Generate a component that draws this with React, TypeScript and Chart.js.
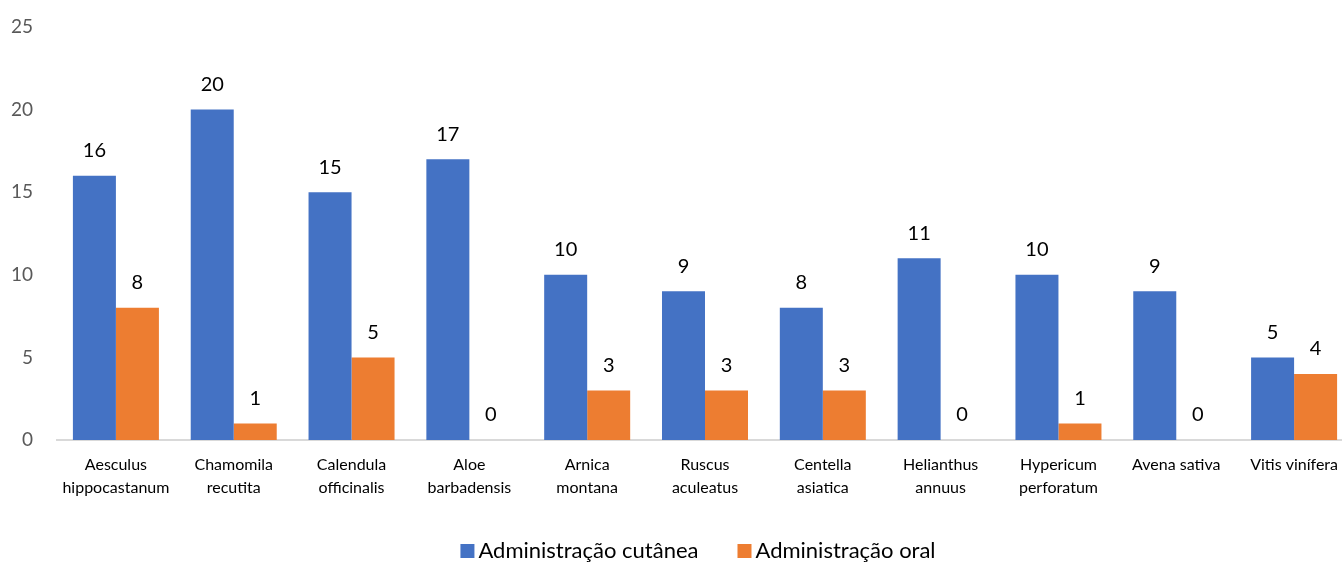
import React, { useEffect, useRef } from "react";
import { Chart, registerables } from "chart.js";

Chart.register(...registerables);

const categories: string[][] = [
  ["Aesculus", "hippocastanum"],
  ["Chamomila", "recutita"],
  ["Calendula", "officinalis"],
  ["Aloe", "barbadensis"],
  ["Arnica", "montana"],
  ["Ruscus", "aculeatus"],
  ["Centella", "asiatica"],
  ["Helianthus", "annuus"],
  ["Hypericum", "perforatum"],
  ["Avena sativa"],
  ["Vitis vinífera"],
];
const cutanea = [16, 20, 15, 17, 10, 9, 8, 11, 10, 9, 5];
const oral = [8, 1, 5, 0, 3, 3, 3, 0, 1, 0, 4];
const seriesNames = ["Administração cutânea", "Administração oral"];
const seriesColors = ["#4472C4", "#ED7D31"];

const FONT = "Lato, 'Open Sans', sans-serif";

const dataLabels = {
  id: "dataLabels",
  afterDatasetsDraw(chart: any) {
    const ctx = chart.ctx;
    ctx.save();
    ctx.font = `20px ${FONT}`;
    ctx.fillStyle = "#000";
    ctx.textAlign = "center";
    ctx.textBaseline = "middle";
    chart.data.datasets.forEach((ds: any, i: number) => {
      const meta = chart.getDatasetMeta(i);
      meta.data.forEach((el: any, j: number) => {
        ctx.fillText(String(ds.data[j]), el.x, el.y - 25);
      });
    });
    ctx.restore();
  },
};

// Office-style legend: small square, short gap, wide spacing between items
const customLegend = {
  id: "customLegend",
  afterDraw(chart: any) {
    const ctx = chart.ctx;
    ctx.save();
    ctx.font = `22px ${FONT}`;
    ctx.textBaseline = "middle";
    ctx.textAlign = "left";
    const box = 14, gap = 4, itemGap = 39;
    const items = chart.data.datasets.map((ds: any) => ({
      label: ds.label,
      color: ds.backgroundColor,
      w: box + gap + ctx.measureText(ds.label).width,
    }));
    const total = items.reduce((a: number, it: any) => a + it.w, 0) + itemGap * (items.length - 1);
    const cx = 698;
    const cy = chart.height - 12;
    let x = cx - total / 2;
    items.forEach((it: any) => {
      ctx.fillStyle = it.color;
      ctx.fillRect(x, cy - box / 2, box, box);
      ctx.fillStyle = "#000";
      ctx.fillText(it.label, x + box + gap, cy);
      x += it.w + itemGap;
    });
    ctx.restore();
  },
};

export default function App() {
  const ref = useRef<HTMLCanvasElement>(null);
  useEffect(() => {
    if (!ref.current) return;
    const chart = new Chart(ref.current, {
      type: "bar",
      data: {
        labels: categories,
        datasets: [
          { label: seriesNames[0], data: cutanea, backgroundColor: seriesColors[0] },
          { label: seriesNames[1], data: oral, backgroundColor: seriesColors[1] },
        ],
      },
      options: {
        responsive: false,
        animation: false,
        layout: { padding: { top: 27, right: 45, left: 0, bottom: 43 } },
        datasets: { bar: { categoryPercentage: 0.73, barPercentage: 1 } },
        scales: {
          x: {
            grid: { display: false, drawTicks: false },
            border: { display: true, color: "#d9d9d9", width: 2 },
            afterFit: (s: any) => { s.height = 80; },
            ticks: {
              color: "#000",
              font: { family: FONT, size: 16, lineHeight: 1.45 },
              padding: 13,
              maxRotation: 0,
              autoSkip: false,
            },
          },
          y: {
            min: 0,
            max: 25,
            grid: { display: false, drawTicks: false },
            border: { display: false },
            afterFit: (s: any) => { s.width = 57; s.paddingTop = 0; s.paddingBottom = 0; },
            ticks: {
              stepSize: 5,
              color: "#595959",
              font: { family: FONT, size: 19 },
              padding: 24,
            },
          },
        },
        plugins: {
          legend: { display: false },
          tooltip: { enabled: false },
        },
      },
      plugins: [dataLabels, customLegend],
    });
    return () => chart.destroy();
  }, []);
  return (
    <div style={{ position: "absolute", left: 0, top: 0, width: 1342, height: 563, overflow: "hidden", background: "#fff" }}>
      <canvas ref={ref} width={1398} height={563} />
    </div>
  );
}
